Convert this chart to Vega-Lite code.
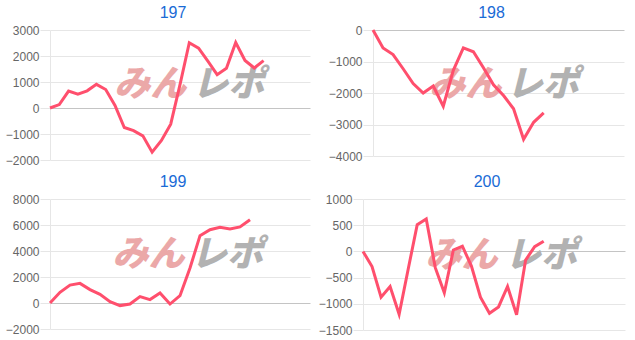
{
  "$schema": "https://vega.github.io/schema/vega-lite/v6.json",
  "padding": {"left": 5, "top": 5, "right": 10, "bottom": 3},
  "background": "#ffffff",
  "datasets": {
    "d": [
      {"m": "197", "i": 0, "v": 0}, {"m": "197", "i": 1, "v": 130}, {"m": "197", "i": 2, "v": 650}, {"m": "197", "i": 3, "v": 530},
      {"m": "197", "i": 4, "v": 660}, {"m": "197", "i": 5, "v": 910}, {"m": "197", "i": 6, "v": 710}, {"m": "197", "i": 7, "v": 100},
      {"m": "197", "i": 8, "v": -750}, {"m": "197", "i": 9, "v": -870}, {"m": "197", "i": 10, "v": -1070}, {"m": "197", "i": 11, "v": -1700},
      {"m": "197", "i": 12, "v": -1250}, {"m": "197", "i": 13, "v": -620}, {"m": "197", "i": 14, "v": 900}, {"m": "197", "i": 15, "v": 2510},
      {"m": "197", "i": 16, "v": 2300}, {"m": "197", "i": 17, "v": 1800}, {"m": "197", "i": 18, "v": 1280}, {"m": "197", "i": 19, "v": 1530},
      {"m": "197", "i": 20, "v": 2520}, {"m": "197", "i": 21, "v": 1830}, {"m": "197", "i": 22, "v": 1540}, {"m": "197", "i": 23, "v": 1820},
      {"m": "198", "i": 0, "v": 0}, {"m": "198", "i": 1, "v": -570}, {"m": "198", "i": 2, "v": -780}, {"m": "198", "i": 3, "v": -1230},
      {"m": "198", "i": 4, "v": -1700}, {"m": "198", "i": 5, "v": -2000}, {"m": "198", "i": 6, "v": -1780}, {"m": "198", "i": 7, "v": -2420},
      {"m": "198", "i": 8, "v": -1280}, {"m": "198", "i": 9, "v": -570}, {"m": "198", "i": 10, "v": -690}, {"m": "198", "i": 11, "v": -1200},
      {"m": "198", "i": 12, "v": -1740}, {"m": "198", "i": 13, "v": -2080}, {"m": "198", "i": 14, "v": -2500}, {"m": "198", "i": 15, "v": -3470},
      {"m": "198", "i": 16, "v": -2930}, {"m": "198", "i": 17, "v": -2630},
      {"m": "199", "i": 0, "v": 0}, {"m": "199", "i": 1, "v": 820}, {"m": "199", "i": 2, "v": 1380}, {"m": "199", "i": 3, "v": 1510},
      {"m": "199", "i": 4, "v": 1030}, {"m": "199", "i": 5, "v": 670}, {"m": "199", "i": 6, "v": 100}, {"m": "199", "i": 7, "v": -200},
      {"m": "199", "i": 8, "v": -80}, {"m": "199", "i": 9, "v": 490}, {"m": "199", "i": 10, "v": 260}, {"m": "199", "i": 11, "v": 770},
      {"m": "199", "i": 12, "v": -80}, {"m": "199", "i": 13, "v": 560}, {"m": "199", "i": 14, "v": 2690}, {"m": "199", "i": 15, "v": 5180},
      {"m": "199", "i": 16, "v": 5640}, {"m": "199", "i": 17, "v": 5820}, {"m": "199", "i": 18, "v": 5690}, {"m": "199", "i": 19, "v": 5850},
      {"m": "199", "i": 20, "v": 6410},
      {"m": "200", "i": 0, "v": 0}, {"m": "200", "i": 1, "v": -290}, {"m": "200", "i": 2, "v": -875}, {"m": "200", "i": 3, "v": -670},
      {"m": "200", "i": 4, "v": -1200}, {"m": "200", "i": 5, "v": -340}, {"m": "200", "i": 6, "v": 510}, {"m": "200", "i": 7, "v": 620},
      {"m": "200", "i": 8, "v": -310}, {"m": "200", "i": 9, "v": -790}, {"m": "200", "i": 10, "v": 25}, {"m": "200", "i": 11, "v": 100},
      {"m": "200", "i": 12, "v": -280}, {"m": "200", "i": 13, "v": -875}, {"m": "200", "i": 14, "v": -1180}, {"m": "200", "i": 15, "v": -1060},
      {"m": "200", "i": 16, "v": -670}, {"m": "200", "i": 17, "v": -1210}, {"m": "200", "i": 18, "v": -165}, {"m": "200", "i": 19, "v": 90},
      {"m": "200", "i": 20, "v": 195}
    ]
  },
  "config": {
    "view": {"stroke": null},
    "font": "Liberation Sans",
    "axisY": {
      "labelFont": "Liberation Sans",
      "labelFontSize": 12,
      "labelColor": "#666666",
      "labelPadding": 1,
      "tickSize": 10,
      "tickColor": "#e6e6e6",
      "domainColor": "#e6e6e6",
      "grid": true,
      "format": "d",
      "title": null
    },
    "title": {
      "font": "Liberation Sans",
      "fontSize": 16,
      "fontWeight": "normal",
      "color": "#1a6bd6",
      "frame": "group",
      "anchor": "middle",
      "dx": -7,
      "offset": 3
    }
  },
  "spacing": 8,
  "vconcat": [
    {
      "spacing": 18,
      "hconcat": [
        {
          "title": "197",
          "width": 260, "height": 130,
          "layer": [
            {"data": {"values": [{}]}, "mark": {"type": "text", "text": "みん", "font": "Noto Sans CJK JP", "fontWeight": 900, "fontStyle": "italic", "fontSize": 36, "color": "#eba8a8"},
             "encoding": {"x": {"datum": 10.8, "type": "quantitative"}, "y": {"datum": 866, "type": "quantitative"}}},
            {"data": {"values": [{}]}, "mark": {"type": "text", "text": "レポ", "font": "Noto Sans CJK JP", "fontWeight": 900, "fontStyle": "italic", "fontSize": 36, "color": "#b2b2b2"},
             "encoding": {"x": {"datum": 19.2, "type": "quantitative"}, "y": {"datum": 866, "type": "quantitative"}}},
            {"data": {"name": "d"}, "transform": [{"filter": "datum.m == '197'"}],
             "mark": {"type": "line", "color": "#ff4f6d", "strokeWidth": 3},
             "encoding": {"x": {"field": "i", "type": "quantitative"}, "y": {"field": "v", "type": "quantitative"}}}
          ],
          "encoding": {
            "x": {"type": "quantitative", "scale": {"domain": [0, 28], "nice": false, "zero": false}, "axis": null},
            "y": {"type": "quantitative", "scale": {"domain": [-2000, 3000], "nice": false, "zero": false},
                  "axis": {"values": [-2000, -1000, 0, 1000, 2000, 3000], "gridColor": {"condition": {"test": "datum.value === 0", "value": "#c4c4c4"}, "value": "#e6e6e6"}}}
          }
        },
        {
          "title": "198",
          "width": 251, "height": 126,
          "layer": [
            {"data": {"values": [{}]}, "mark": {"type": "text", "text": "みん", "font": "Noto Sans CJK JP", "fontWeight": 900, "fontStyle": "italic", "fontSize": 36, "color": "#eba8a8"},
             "encoding": {"x": {"datum": 9.2, "type": "quantitative"}, "y": {"datum": -1746, "type": "quantitative"}}},
            {"data": {"values": [{}]}, "mark": {"type": "text", "text": "レポ", "font": "Noto Sans CJK JP", "fontWeight": 900, "fontStyle": "italic", "fontSize": 36, "color": "#b2b2b2"},
             "encoding": {"x": {"datum": 16.9, "type": "quantitative"}, "y": {"datum": -1746, "type": "quantitative"}}},
            {"data": {"name": "d"}, "transform": [{"filter": "datum.m == '198'"}],
             "mark": {"type": "line", "color": "#ff4f6d", "strokeWidth": 3},
             "encoding": {"x": {"field": "i", "type": "quantitative"}, "y": {"field": "v", "type": "quantitative"}}}
          ],
          "encoding": {
            "x": {"type": "quantitative", "scale": {"domain": [0, 25], "nice": false, "zero": false}, "axis": null},
            "y": {"type": "quantitative", "scale": {"domain": [-4000, 0], "nice": false, "zero": false},
                  "axis": {"values": [-4000, -3000, -2000, -1000, 0], "gridColor": {"condition": {"test": "datum.value === 0", "value": "#c4c4c4"}, "value": "#e6e6e6"}}}
          }
        }
      ]
    },
    {
      "spacing": 8,
      "hconcat": [
        {
          "title": "199",
          "width": 260, "height": 130,
          "layer": [
            {"data": {"values": [{}]}, "mark": {"type": "text", "text": "みん", "font": "Noto Sans CJK JP", "fontWeight": 900, "fontStyle": "italic", "fontSize": 36, "color": "#eba8a8"},
             "encoding": {"x": {"datum": 9.85, "type": "quantitative"}, "y": {"datum": 3690, "type": "quantitative"}}},
            {"data": {"values": [{}]}, "mark": {"type": "text", "text": "レポ", "font": "Noto Sans CJK JP", "fontWeight": 900, "fontStyle": "italic", "fontSize": 36, "color": "#b2b2b2"},
             "encoding": {"x": {"datum": 17.7, "type": "quantitative"}, "y": {"datum": 3690, "type": "quantitative"}}},
            {"data": {"name": "d"}, "transform": [{"filter": "datum.m == '199'"}],
             "mark": {"type": "line", "color": "#ff4f6d", "strokeWidth": 3},
             "encoding": {"x": {"field": "i", "type": "quantitative"}, "y": {"field": "v", "type": "quantitative"}}}
          ],
          "encoding": {
            "x": {"type": "quantitative", "scale": {"domain": [0, 26], "nice": false, "zero": false}, "axis": null},
            "y": {"type": "quantitative", "scale": {"domain": [-2000, 8000], "nice": false, "zero": false},
                  "axis": {"values": [-2000, 0, 2000, 4000, 6000, 8000], "gridColor": {"condition": {"test": "datum.value === 0", "value": "#c4c4c4"}, "value": "#e6e6e6"}}}
          }
        },
        {
          "title": "200",
          "width": 262, "height": 131,
          "layer": [
            {"data": {"values": [{}]}, "mark": {"type": "text", "text": "みん", "font": "Noto Sans CJK JP", "fontWeight": 900, "fontStyle": "italic", "fontSize": 36, "color": "#eba8a8"},
             "encoding": {"x": {"datum": 10.9, "type": "quantitative"}, "y": {"datum": -88, "type": "quantitative"}}},
            {"data": {"values": [{}]}, "mark": {"type": "text", "text": "レポ", "font": "Noto Sans CJK JP", "fontWeight": 900, "fontStyle": "italic", "fontSize": 36, "color": "#b2b2b2"},
             "encoding": {"x": {"datum": 19.7, "type": "quantitative"}, "y": {"datum": -88, "type": "quantitative"}}},
            {"data": {"name": "d"}, "transform": [{"filter": "datum.m == '200'"}],
             "mark": {"type": "line", "color": "#ff4f6d", "strokeWidth": 3},
             "encoding": {"x": {"field": "i", "type": "quantitative"}, "y": {"field": "v", "type": "quantitative"}}}
          ],
          "encoding": {
            "x": {"type": "quantitative", "scale": {"domain": [0, 29], "nice": false, "zero": false}, "axis": null},
            "y": {"type": "quantitative", "scale": {"domain": [-1500, 1000], "nice": false, "zero": false},
                  "axis": {"values": [-1500, -1000, -500, 0, 500, 1000], "gridColor": {"condition": {"test": "datum.value === 0", "value": "#c4c4c4"}, "value": "#e6e6e6"}}}
          }
        }
      ]
    }
  ]
}
